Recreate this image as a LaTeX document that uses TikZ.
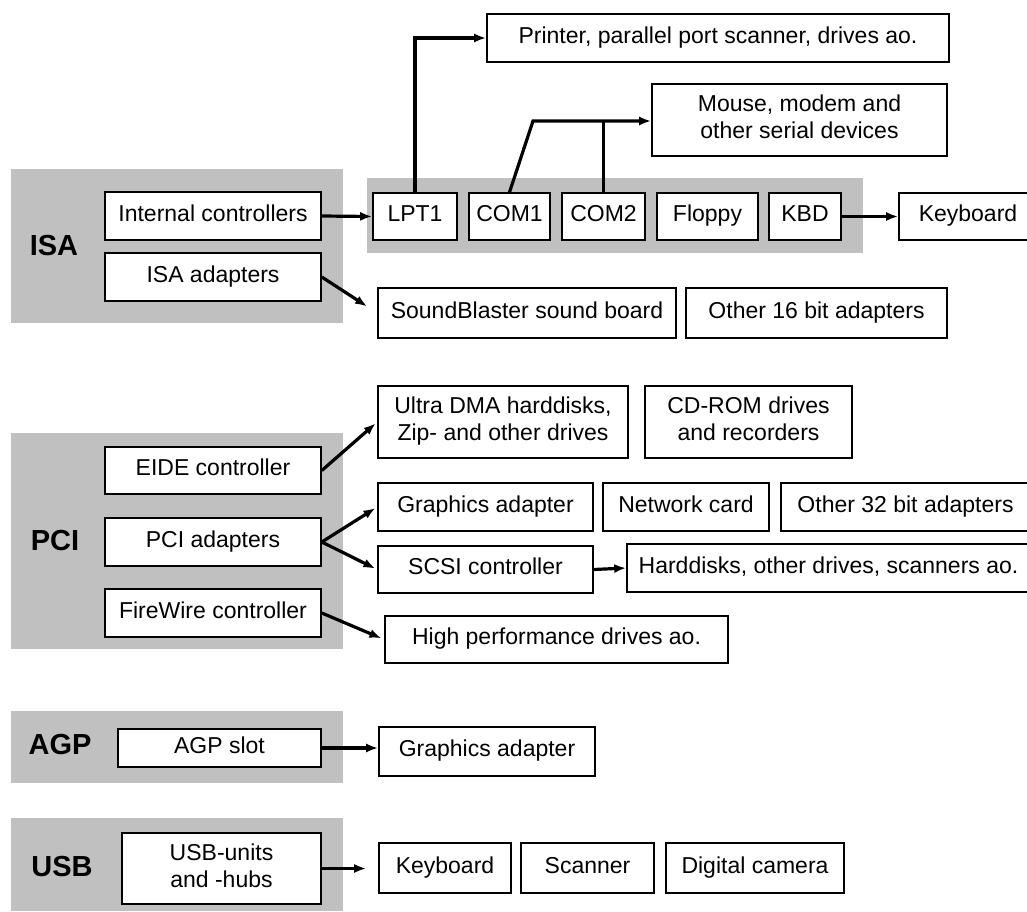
\documentclass[tikz,border=0pt]{standalone}
\usepackage{fontspec}
\setmainfont{Liberation Sans}
\usetikzlibrary{arrows.meta,calc}
\definecolor{busgray}{RGB}{192,192,192}
% fixed line height so that every label sits at the same level in its box
\newcommand\bstrut{\rule[-6pt]{0pt}{20pt}}
\tikzset{
  box/.style={draw=black, line width=1.6pt, fill=white, inner sep=0pt,
    align=center, font=\fontsize{23}{27}\selectfont,
    execute at begin node=\bstrut, execute at end node=\bstrut},
  band/.style={fill=busgray, draw=none, inner sep=0pt},
  buslabel/.style={font=\fontsize{29}{32}\selectfont\bfseries, inner sep=0pt},
  link/.style={line width=3.2pt, -{Latex[length=12pt,width=9pt]}},
  plain/.style={line width=3.2pt},
}
% \placebox[style]{name}{x1}{y1}{x2}{y2}{text}
\newcommand\placebox[7][box]{%
  \node[#1, minimum width={#5-#3}, minimum height={#6-#4}]
    (#2) at ({(#3+#5)/2},{(#4+#6)/2}) {#7};}

\begin{document}
\begin{tikzpicture}[x=1pt, y=-1pt]
\useasboundingbox (0,0) rectangle (1027,911);
\clip (0,0) rectangle (1027,911);

% ---------------- ISA ----------------
\placebox[band]{isa}{11}{169}{343}{323}{}
\placebox[band]{ports}{367}{178}{863}{253}{}
\node[buslabel] (isalbl) at (54,246) {ISA};
\placebox{intc}{105}{192}{321}{240}{Internal controllers}
\placebox{isaad}{105}{253}{321}{301}{ISA adapters}
\placebox{lpt}{373}{193}{457}{240}{LPT1}
\placebox{comone}{469}{193}{550}{240}{COM1}
\placebox{comtwo}{562}{193}{645}{240}{COM2}
\placebox{floppy}{657}{193}{758}{240}{Floppy}
\placebox{kbd}{769}{193}{841}{240}{KBD}
\placebox{kb}{899}{193}{1037}{240}{Keyboard}
\placebox{printer}{487}{14}{949}{62}{Printer, parallel port scanner, drives ao.}
\placebox{mouse}{652}{84}{947}{156}{Mouse, modem and\\other serial devices}
\placebox{sb}{378}{288}{676}{338}{SoundBlaster sound board}
\placebox{osixteen}{686}{288}{947}{338}{Other 16 bit adapters}

\coordinate (serbend) at (533,121);
\draw[link] (intc.east) -- (lpt.west);
\draw[link] (lpt.north) -- (lpt.north |- printer.west) -- (printer.west);
\draw[link] (comone.north) -- (serbend) -- (serbend -| mouse.west);
\draw[plain] (comtwo.north) -- (comtwo.north |- serbend);
\draw[link] (kbd.east) -- (kb.west);
\draw[link, shorten >=12pt] (isaad.east) -- (sb.west);

% ---------------- PCI ----------------
\placebox[band]{pci}{11}{433}{343}{649}{}
\node[buslabel] (pcilbl) at (55,541) {PCI};
\placebox{eide}{105}{447}{321}{494}{EIDE controller}
\placebox{pciad}{105}{518}{321}{566}{PCI adapters}
\placebox{fw}{105}{589}{321}{637}{FireWire controller}
\placebox{udma}{378}{386}{628}{458}{Ultra DMA harddisks,\\Zip- and other drives}
\placebox{cdrom}{645}{386}{852}{458}{CD-ROM drives\\and recorders}
\placebox{gfx}{378}{483}{593}{531}{Graphics adapter}
\placebox{net}{603}{483}{769}{531}{Network card}
\placebox{othirtytwo}{781}{483}{1030}{531}{Other 32 bit adapters}
\placebox{scsi}{378}{546}{593}{593}{SCSI controller}
\placebox{hd}{627}{544}{1030}{592}{Harddisks, other drives, scanners ao.}
\placebox{hp}{385}{616}{728}{663}{High performance drives ao.}

\draw[link, shorten >=2pt] (eide.east) -- (udma.west);
\draw[link, shorten >=2pt] (pciad.east) -- (gfx.west);
\draw[link, shorten >=2pt] (pciad.east) -- (scsi.west);
\draw[link, shorten >=3pt] (fw.east) -- (hp.west);
\draw[link] (scsi.east) -- (hd.west);

% ---------------- AGP ----------------
\placebox[band]{agp}{11}{711}{343}{783}{}
\node[buslabel] (agplbl) at (60,745) {AGP};
\placebox{agpslot}{118}{729}{321}{767}{AGP slot}
\placebox{agfx}{379}{727}{595}{776}{Graphics adapter}
\draw[link] (agpslot.east) -- (agpslot.east -| agfx.west);

% ---------------- USB ----------------
\placebox[band]{usb}{11}{818}{343}{911}{}
\node[buslabel] (usblbl) at (62,866) {USB};
\placebox{usbu}{122}{833}{321}{904}{USB-units\\and -hubs}
\placebox{ukb}{379}{843}{511}{893}{Keyboard}
\placebox{uscan}{521}{843}{654}{893}{Scanner}
\placebox{ucam}{666}{843}{844}{893}{Digital camera}
\draw[link, shorten >=12pt] (usbu.east) -- (usbu.east -| ukb.west);
\end{tikzpicture}
\end{document}
